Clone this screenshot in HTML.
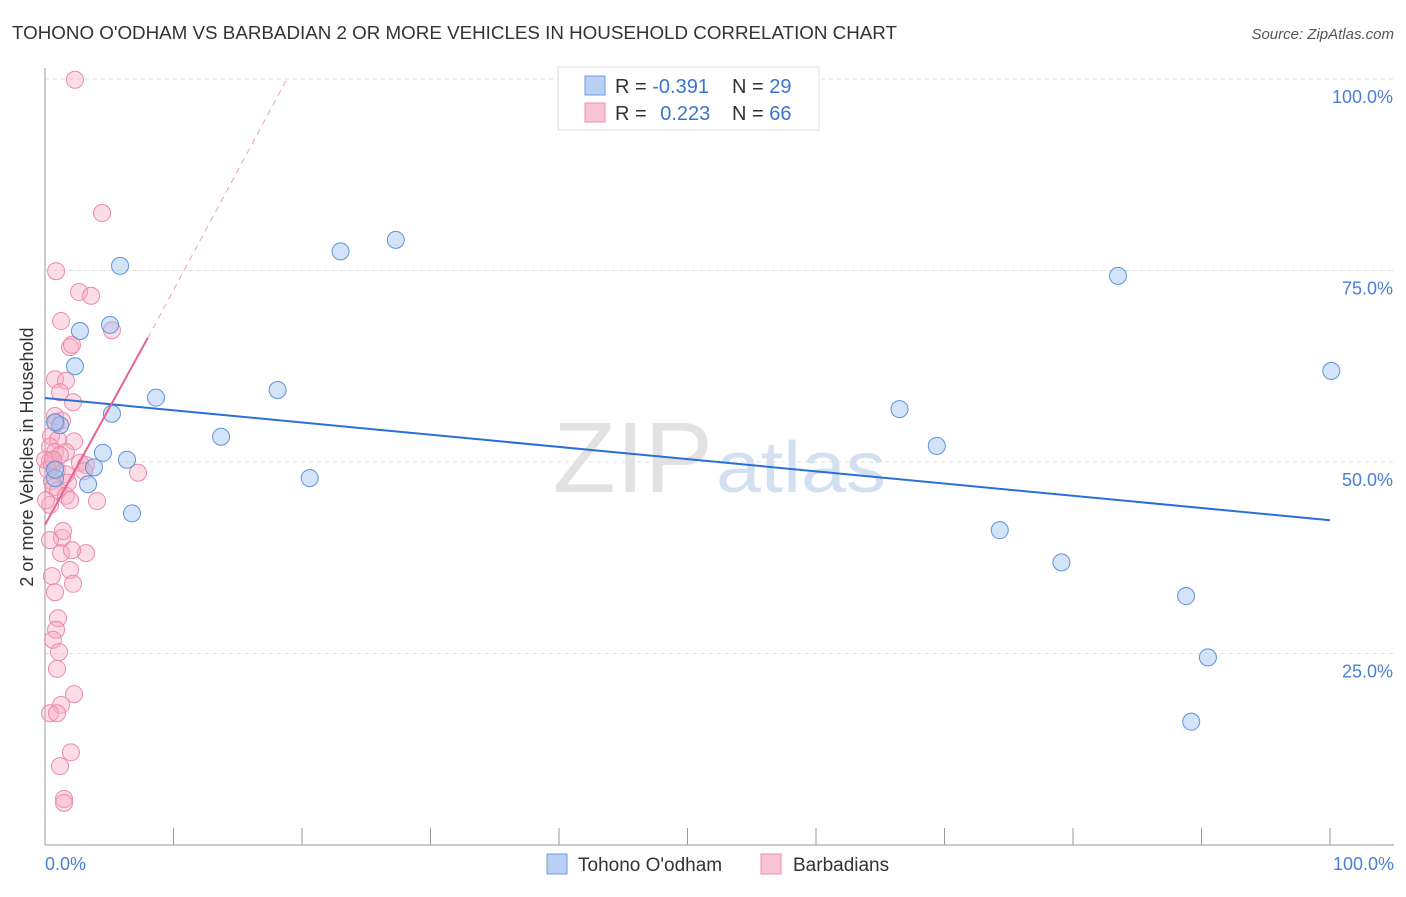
<!DOCTYPE html>
<html><head><meta charset="utf-8"><style>
body{margin:0;background:#fff;font-family:"Liberation Sans",sans-serif;}
svg text{font-family:"Liberation Sans",sans-serif;}
</style></head><body>
<svg id="chart" width="1406" height="892">
<text x="12" y="39" font-size="18" fill="#333" textLength="885" lengthAdjust="spacingAndGlyphs">TOHONO O'ODHAM VS BARBADIAN 2 OR MORE VEHICLES IN HOUSEHOLD CORRELATION CHART</text>
<text x="1394" y="39" font-size="15" fill="#555" font-style="italic" text-anchor="end">Source: ZipAtlas.com</text>
<text x="553" y="492" font-size="100" fill="#e2e2e2" font-family="Liberation Serif" textLength="160" lengthAdjust="spacingAndGlyphs">ZIP</text>
<text x="716" y="492" font-size="72" fill="#d3e0f2" textLength="170" lengthAdjust="spacingAndGlyphs">atlas</text>
<g id="grid"></g><g id="axes"></g><g id="marks"></g>
<text transform="translate(33,457) rotate(-90)" font-size="18" fill="#333" text-anchor="middle">2 or more Vehicles in Household</text>
<text x="45" y="870" font-size="18" fill="#4a7fd4">0.0%</text>
<text x="1394" y="870" font-size="18" fill="#4a7fd4" text-anchor="end">100.0%</text>
<g>
<rect x="558" y="67" width="261" height="63" fill="#fff" stroke="#ddd"/>
<rect x="585" y="76" width="20" height="19" fill="#b7d0f3" stroke="#6f9ee0"/>
<rect x="585" y="103" width="20" height="19" fill="#f9c4d3" stroke="#ec8fab"/>
<text x="615" y="93" font-size="20" fill="#333">R = <tspan fill="#3a74d0">-0.391</tspan></text>
<text x="732" y="93" font-size="20" fill="#333">N = <tspan fill="#3a74d0">29</tspan></text>
<text x="615" y="120" font-size="20" fill="#333">R = <tspan fill="#3a74d0" dx="8">0.223</tspan></text>
<text x="732" y="120" font-size="20" fill="#333">N = <tspan fill="#3a74d0">66</tspan></text>
</g>
<g>
<rect x="547" y="854" width="20" height="20" fill="#b7d0f3" stroke="#6f9ee0"/>
<text x="578" y="871" font-size="19" fill="#333">Tohono O'odham</text>
<rect x="761" y="854" width="20" height="20" fill="#f9c4d3" stroke="#ec8fab"/>
<text x="793" y="871" font-size="19" fill="#333">Barbadians</text>
</g>
</svg>
<script>
const yTicks=[25,50,75,100];
const yTickLabels=["25.0%","50.0%","75.0%","100.0%"];
const xTicks=[0,10,20,30,40,50,60,70,80,90,100];
const blueX=[2.33,2.72,5.06,5.84,5.21,8.64,1.17,0.78,4.51,6.38,3.81,3.35,0.78,6.77,13.7,18.1,20.6,23.0,27.3,66.5,69.4,74.3,79.1,83.5,88.8,90.5,89.2,100.1,0.78];
const blueY=[62.5,67.1,67.9,75.6,56.3,58.4,54.8,55.2,51.2,50.3,49.3,47.1,47.9,43.3,53.3,59.4,47.9,77.5,79.0,56.9,52.1,41.1,36.9,74.3,32.5,24.5,16.1,61.9,49.0];
const pinkX=[2.33,4.44,0.86,2.65,3.58,1.25,1.95,2.1,5.21,0.78,1.63,1.17,2.18,0.78,1.32,0.47,1.01,2.26,0.39,0.78,1.63,0.39,0.54,2.72,3.19,0.93,1.63,3.04,7.24,0.54,0.70,1.79,1.01,1.63,4.05,0.39,1.32,1.25,3.19,2.10,1.95,0.54,2.18,0.78,1.01,0.86,0.62,1.09,0.93,2.26,1.25,0.39,0.93,2.02,1.17,1.48,1.48,0.86,1.40,0.0,0.23,0.08,0.39,1.17,1.95,0.62];
const pinkY=[99.9,82.5,74.9,72.2,71.7,68.4,65.0,65.3,67.2,60.8,60.6,59.1,57.8,56.0,55.4,53.4,52.9,52.7,52.0,51.3,51.3,50.1,49.6,49.9,49.6,49.0,48.4,48.8,48.6,47.5,46.7,47.3,46.3,45.6,44.9,44.4,40.1,38.1,38.1,38.5,35.9,35.1,34.1,33.0,29.6,28.1,26.8,25.2,23.0,19.7,18.3,17.2,17.2,12.1,10.3,6.0,5.5,55.1,41.0,50.3,49.0,45.0,39.8,50.9,45.0,50.3];
const blueTrend=[0,58.35,100,42.4];
const pinkTrend=[0,41.8,8.0,66.2,18.8,99.9];
const X=v=>45+v*12.85, Y=v=>845-v*7.66;
const NS="http://www.w3.org/2000/svg";
function mk(t,a,p){const e=document.createElementNS(NS,t);for(const k in a)e.setAttribute(k,a[k]);p.appendChild(e);return e;}
const grid=document.getElementById('grid'),axes=document.getElementById('axes'),marks=document.getElementById('marks');
yTicks.forEach((v,i)=>{
 const l=mk('line',{x1:45,x2:1394,y1:Y(v),y2:Y(v),stroke:'#ddd','stroke-dasharray':'4,4'},grid);
 
 
 const t=mk('text',{x:1393,y:Y(v)+24,'font-size':18,fill:'#4a7fd4','text-anchor':'end'},grid);
 t.textContent=yTickLabels[i];
 
 
});
mk('line',{x1:45,x2:45,y1:68,y2:845,stroke:'#999'},axes);
mk('line',{x1:45,x2:1394,y1:845,y2:845,stroke:'#999'},axes);
xTicks.forEach(v=>{
 const l=mk('line',{x1:X(v),x2:X(v),y1:828,y2:845,stroke:'#999'},axes);
 
 
});
pinkX.forEach((x,i)=>{
 const c=mk('circle',{cx:X(x),cy:Y(pinkY[i]),r:8.5,fill:'rgba(247,170,195,0.4)',stroke:'#eb8aa8','stroke-width':1},marks);
 
 
});
blueX.forEach((x,i)=>{
 const c=mk('circle',{cx:X(x),cy:Y(blueY[i]),r:8.5,fill:'rgba(160,195,240,0.45)',stroke:'#5f92dc','stroke-width':1},marks);
 
 
});
const bl=mk('line',{x1:X(blueTrend[0]),y1:Y(blueTrend[1]),x2:X(blueTrend[2]),y2:Y(blueTrend[3]),stroke:'#2a6fd6','stroke-width':2},marks);


const pl=mk('line',{x1:X(pinkTrend[0]),y1:Y(pinkTrend[1]),x2:X(pinkTrend[2]),y2:Y(pinkTrend[3]),stroke:'#e8628c','stroke-width':2},marks);


const pd=mk('line',{x1:X(pinkTrend[2]),y1:Y(pinkTrend[3]),x2:X(pinkTrend[4]),y2:Y(pinkTrend[5]),stroke:'#eea0b8','stroke-width':1,'stroke-dasharray':'6,5'},marks);


</script>
</body></html>
